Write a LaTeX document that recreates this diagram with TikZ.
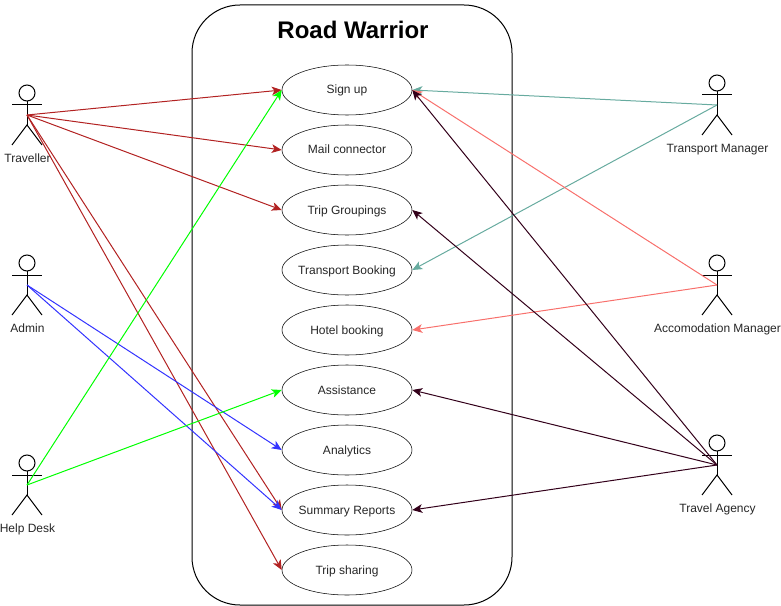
\documentclass[tikz,border=0pt]{standalone}
\usepackage{fontspec}
\setmainfont{Liberation Sans}
\usetikzlibrary{arrows.meta,shapes.geometric}
\definecolor{travelred}{HTML}{B22222}
\definecolor{helpgreen}{HTML}{00FF00}
\definecolor{adminblue}{HTML}{3333FF}
\definecolor{transportteal}{HTML}{67AB9F}
\definecolor{hotelcoral}{HTML}{F8706C}
\definecolor{agencydark}{HTML}{33001A}
\tikzset{
	usecase/.style={draw,ellipse,minimum width=97.5pt,minimum height=37.5pt,inner sep=0pt,font=\fontsize{9}{11}\selectfont,text=black!85},
	actorname/.style={inner sep=0pt,anchor=base,font=\fontsize{9}{11}\selectfont,text=black!85},
	link/.style={-{Stealth[length=7.5pt,width=6.5pt,inset=2pt]},line width=0.75pt}
}
% text of a use case, keeps the ellipse at its own size
\newcommand{\casetext}[1]{\makebox[0pt]{\raisebox{-0.7pt}[6.5pt][1.9pt]{#1}}}
% stick figure around its hub, the hub is where the connectors start
\newcommand{\stickman}[5]{
	\coordinate (#1) at (#2,#3);
	\draw[line width=0.75pt] (#2,#3-22) circle[radius=6pt];
	\draw[line width=0.75pt] (#2,#3-14) -- (#2,#3+10);
	\draw[line width=0.75pt] (#2-15,#3-10) -- (#2+15,#3-10);
	\draw[line width=0.75pt] (#2-15,#3+30) -- (#2,#3+10) -- (#2+15,#3+30);
	\node[actorname] (#1name) at (#2+0.5,#3+#4) {#5};
}
\begin{document}
\begin{tikzpicture}[x=0.75pt,y=-0.75pt]
	\useasboundingbox (0,0) rectangle (781,606);
	\draw[line width=0.75pt,rounded corners=36pt] (192,5) rectangle (512,605);
	\node[font=\bfseries\fontsize{18}{22}\selectfont] (title) at (353,30) {Road Warrior};
	% use cases
	\node[usecase] (signup) at (347,90) {\casetext{Sign up}};
	\node[usecase] (mail) at (347,150) {\casetext{Mail connector}};
	\node[usecase] (groupings) at (347,210) {\casetext{Trip Groupings}};
	\node[usecase] (booking) at (347,270) {\casetext{Transport Booking}};
	\node[usecase] (hotel) at (347,330) {\casetext{Hotel booking}};
	\node[usecase] (assistance) at (347,390) {\casetext{Assistance}};
	\node[usecase] (analytics) at (347,450) {\casetext{Analytics}};
	\node[usecase] (summary) at (347,510) {\casetext{Summary Reports}};
	\node[usecase] (sharing) at (347,570) {\casetext{Trip sharing}};
	% actors
	\stickman{traveller}{27}{115}{47}{Traveller}
	\stickman{admin}{27}{285}{47}{Admin}
	\stickman{helpdesk}{27}{485}{47}{Help Desk}
	\stickman{transport}{717}{105}{47}{Transport Manager}
	\stickman{accomodation}{717}{285}{47}{Accomodation Manager}
	\stickman{agency}{717}{465}{47}{Travel Agency}
	% connectors
	\foreach \target in {signup,mail,groupings,summary,sharing}
		\draw[link,travelred] (traveller) -- (\target.west);
	\foreach \target in {analytics,summary}
		\draw[link,adminblue] (admin) -- (\target.west);
	\foreach \target in {signup,assistance}
		\draw[link,helpgreen] (helpdesk) -- (\target.west);
	\foreach \target in {signup,booking}
		\draw[link,transportteal] (transport) -- (\target.east);
	\foreach \target in {signup,hotel}
		\draw[link,hotelcoral] (accomodation) -- (\target.east);
	\foreach \target in {signup,groupings,assistance,summary}
		\draw[link,agencydark] (agency) -- (\target.east);
\end{tikzpicture}
\end{document}
